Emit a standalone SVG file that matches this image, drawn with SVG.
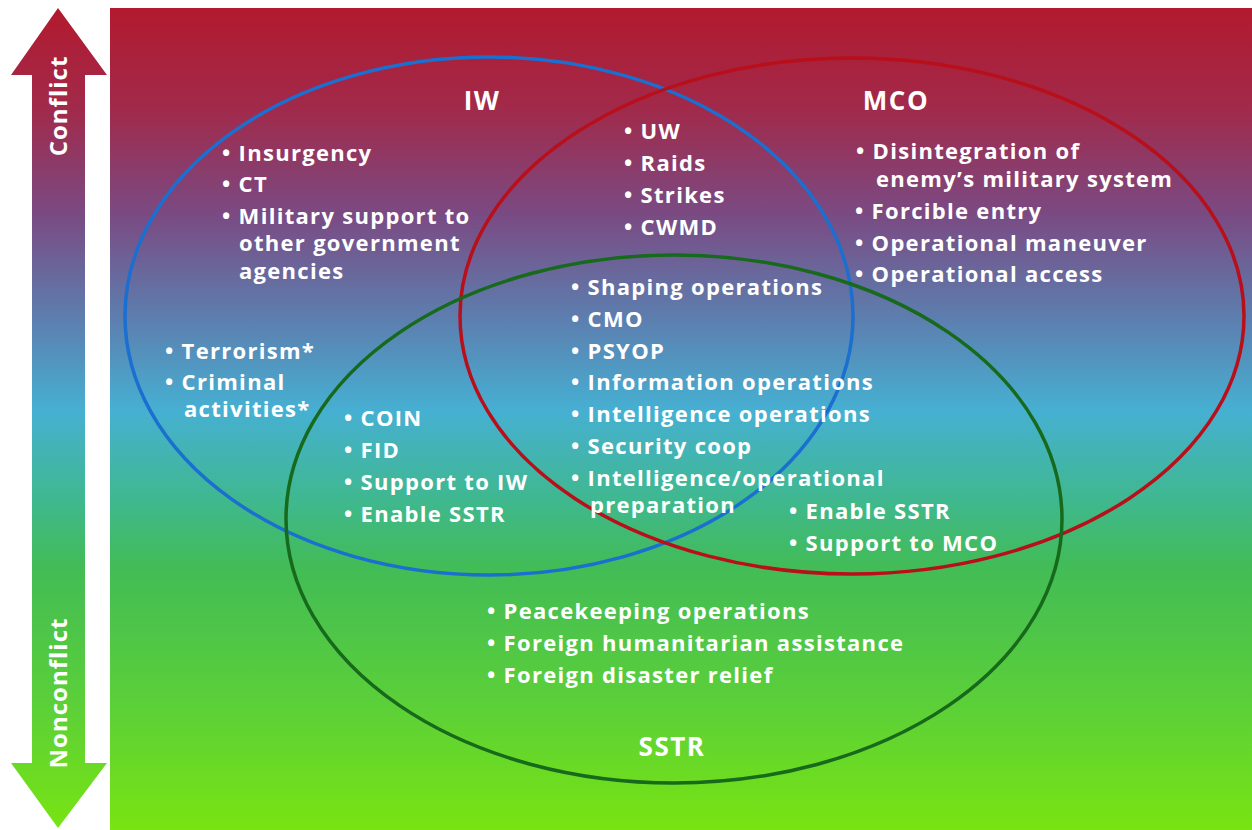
<svg xmlns="http://www.w3.org/2000/svg" width="1252" height="830" viewBox="0 0 1252 830">
  <defs>
    <linearGradient id="bg" x1="0" y1="8" x2="0" y2="830" gradientUnits="userSpaceOnUse">
      <stop offset="0" stop-color="#b21a2e"/>
      <stop offset="0.12" stop-color="#a2294a"/>
      <stop offset="0.25" stop-color="#7a4a82"/>
      <stop offset="0.38" stop-color="#5c7fb0"/>
      <stop offset="0.49" stop-color="#46b0d2"/>
      <stop offset="0.6" stop-color="#3fb88e"/>
      <stop offset="0.68" stop-color="#42bc56"/>
      <stop offset="0.85" stop-color="#5cd038"/>
      <stop offset="1" stop-color="#78e412"/>
    </linearGradient>
    <style>
      .t { font-family: "Open Sans", "Liberation Sans", sans-serif; font-weight: bold; font-size: 22px; letter-spacing: 1.3px; fill: #ffffff; }
      .h { font-family: "Open Sans", "Liberation Sans", sans-serif; font-weight: bold; font-size: 26px; letter-spacing: 1.5px; fill: #ffffff; }
      .a { font-family: "Open Sans", "Liberation Sans", sans-serif; font-weight: bold; font-size: 24px; letter-spacing: 1px; fill: #ffffff; }
      .ring { fill: none; stroke-width: 3.5; }
    </style>
  </defs>

  <rect x="0" y="0" width="1252" height="830" fill="#ffffff"/>
  <rect x="110" y="8" width="1142" height="822" fill="url(#bg)"/>

  <g id="axis-arrow">
    <polygon points="58,8 107,75 85,75 85,763 107,763 58,828 11,763 32,763 32,75 11,75" fill="url(#bg)"/>
    <text class="a" transform="translate(67,106) rotate(-90)" text-anchor="middle">Conflict</text>
    <text class="a" transform="translate(67,693) rotate(-90)" text-anchor="middle">Nonconflict</text>
  </g>

  <g id="connectors">
    <ellipse id="ring-iw" class="ring" cx="489" cy="316" rx="364" ry="259" stroke="#1b6fd0"/>
    <ellipse id="ring-mco" class="ring" cx="852" cy="316" rx="392" ry="258" stroke="#b80f1a"/>
    <ellipse id="ring-sstr" class="ring" cx="674" cy="519" rx="388" ry="264" stroke="#17691b"/>
  </g>

  <g id="iw">
    <text class="h" x="482" y="110" text-anchor="middle">IW</text>
    <text class="t" x="222" y="161">• Insurgency</text>
    <text class="t" x="222" y="192">• CT</text>
    <text class="t" x="222" y="224">• Military support to</text>
    <text class="t" x="239" y="251">other government</text>
    <text class="t" x="239" y="279">agencies</text>
    <text class="t" x="165" y="359">• Terrorism*</text>
    <text class="t" x="165" y="390">• Criminal</text>
    <text class="t" x="184" y="417">activities*</text>
  </g>

  <g id="mco">
    <text class="h" x="896" y="110" text-anchor="middle">MCO</text>
    <text class="t" x="856" y="159">•  Disintegration of</text>
    <text class="t" x="876" y="187">enemy’s military system</text>
    <text class="t" x="855" y="219">• Forcible entry</text>
    <text class="t" x="855" y="251">• Operational maneuver</text>
    <text class="t" x="855" y="282">• Operational access</text>
  </g>

  <g id="iw-mco">
    <text class="t" x="624" y="139">• UW</text>
    <text class="t" x="624" y="171">• Raids</text>
    <text class="t" x="624" y="203">• Strikes</text>
    <text class="t" x="624" y="235">• CWMD</text>
  </g>

  <g id="all-three">
    <text class="t" x="571" y="295">• Shaping operations</text>
    <text class="t" x="571" y="327">• CMO</text>
    <text class="t" x="571" y="359">• PSYOP</text>
    <text class="t" x="571" y="390">• Information operations</text>
    <text class="t" x="571" y="422">• Intelligence operations</text>
    <text class="t" x="571" y="454">• Security coop</text>
    <text class="t" x="571" y="486">• Intelligence/operational</text>
    <text class="t" x="590" y="513">preparation</text>
  </g>

  <g id="iw-sstr">
    <text class="t" x="344" y="426">• COIN</text>
    <text class="t" x="344" y="458">• FID</text>
    <text class="t" x="344" y="490">• Support to IW</text>
    <text class="t" x="344" y="522">• Enable SSTR</text>
  </g>

  <g id="mco-sstr">
    <text class="t" x="789" y="519">• Enable SSTR</text>
    <text class="t" x="789" y="551">• Support to MCO</text>
  </g>

  <g id="sstr">
    <text class="t" x="487" y="619">• Peacekeeping operations</text>
    <text class="t" x="487" y="651">• Foreign humanitarian assistance</text>
    <text class="t" x="487" y="683">• Foreign disaster relief</text>
    <text class="h" x="672" y="756" text-anchor="middle">SSTR</text>
  </g>
</svg>
